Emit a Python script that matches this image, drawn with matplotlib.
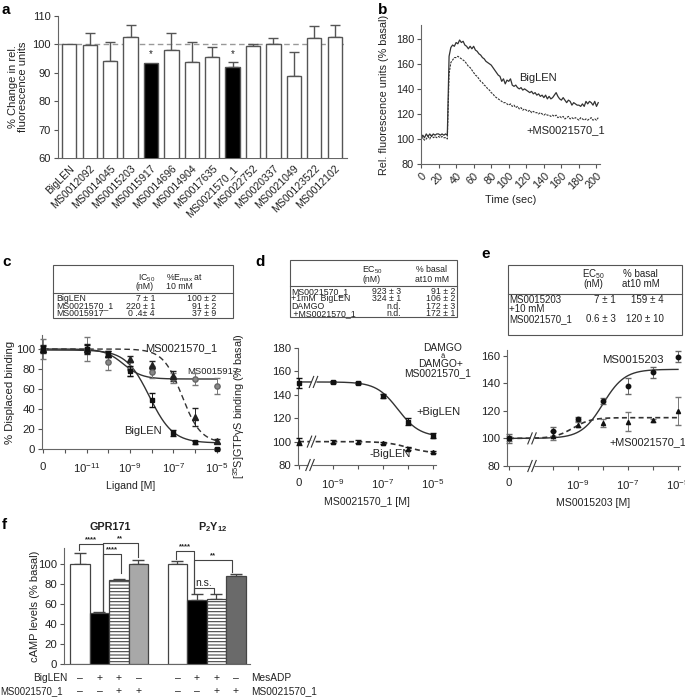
import numpy as np
import matplotlib
matplotlib.use('Agg')
import matplotlib.pyplot as plt
from matplotlib.patches import Rectangle

plt.rcParams['font.family'] = ['Liberation Sans', 'DejaVu Sans']
plt.rcParams['font.size'] = 7.5
plt.rcParams['mathtext.fontset'] = 'custom'
plt.rcParams['mathtext.rm'] = 'Liberation Sans'
plt.rcParams['mathtext.it'] = 'Liberation Sans:italic'
plt.rcParams['mathtext.bf'] = 'Liberation Sans:bold'
plt.rcParams['mathtext.default'] = 'regular'
plt.rcParams['text.color'] = '#222222'
plt.rcParams['axes.labelcolor'] = '#222222'
plt.rcParams['xtick.color'] = '#555555'
plt.rcParams['ytick.color'] = '#555555'
plt.rcParams['xtick.labelcolor'] = '#222222'
plt.rcParams['ytick.labelcolor'] = '#222222'
plt.rcParams['axes.edgecolor'] = '#666666'
plt.rcParams['hatch.linewidth'] = 0.8

# ---------------- DATA ----------------
# Panel a
a_labels = ['BigLEN', 'MS0012092', 'MS0014045', 'MS0015203', 'MS0015917', 'MS0014696',
            'MS0014904', 'MS0017635', 'MS0021570_1', 'MS0022752', 'MS0020337',
            'MS0021049', 'MS00123522', 'MS0012102']
a_values = [100, 99.8, 94.0, 102.7, 93.6, 98.0, 93.9, 95.7, 92.1, 99.4, 100.3, 89.0, 102.4, 102.6]
a_errors = [0, 4.2, 6.7, 4.0, 0, 6.0, 6.8, 3.5, 1.7, 0.6, 1.8, 8.5, 4.1, 4.1]
a_black = [False, False, False, False, True, False, False, False, True, False, False, False, False, False]
a_star = [False, False, False, False, True, False, False, False, True, False, False, False, False, False]

# Panel b (time in sec, sampled every 2 s)
b_biglen = [100, 103, 101, 104, 102, 104, 102, 104, 103, 104, 104, 103, 104, 103, 104, 103,
            166, 173, 175, 174, 177, 176, 179, 177, 178, 175, 174, 172, 174, 172, 174, 171,
            170, 168, 167, 165, 164, 162, 161, 160, 159, 157, 155, 153, 151, 150, 146, 148,
            144, 147, 146, 148, 143, 142, 143, 141, 140, 141, 139, 140, 139, 138, 137, 138,
            136, 137, 135, 136, 134, 135, 133, 135, 132, 134, 132, 133, 135, 137, 134, 132,
            131, 133, 131, 129, 131, 130, 127, 129, 128, 127, 127, 126, 128, 126, 130, 128,
            130, 129, 127, 130, 126, 129]
b_ms = [100, 101, 99, 100, 102, 100, 103, 101, 102, 101, 102, 101, 102, 101, 101, 100,
        152, 161, 163, 165, 165, 166, 165, 164, 163, 162, 160, 158, 157, 155, 153, 151,
        150, 148, 146, 145, 143, 142, 140, 139, 137, 136, 134, 133, 132, 131, 130, 129,
        129, 128, 127, 128, 126, 127, 125, 126, 124, 125, 123, 124, 123, 122, 123, 121,
        122, 121, 121, 120, 121, 120, 119, 120, 119, 119, 118, 119, 118, 119, 117, 118,
        117, 118, 116, 117, 118, 116, 117, 116, 117, 116, 115, 117, 116, 115, 116, 115,
        116, 117, 115, 116, 115, 117]
b_time = np.arange(len(b_biglen)) * 2

# Panel c (log10 concentration; -13 stands for "0")
c_x = [-13, -11, -10, -9, -8, -7, -6, -5]
c_biglen = [100, 100, 95, 78, 49, 16, 7, 0]
c_biglen_err = [3, 4, 3, 5, 7, 3, 1.5, 1]
c_ms21570 = [100, 100, 95, 90, 84, 73, 32, 8]
c_ms21570_err = [4, 5, 3, 3, 4, 5, 9, 2]
c_ms15917 = [100, 100, 87, 80, 77, 71, 70, 63]
c_ms15917_err = [10, 12, 8, 7, 6, 5, 6, 8]
# fitted curve parameters: top, bottom, logIC50, hill
c_fit_biglen = (99, 6, -8.1, 0.8)
c_fit_ms21570 = (100, 6, -6.6, 1.0)
c_fit_ms15917 = (100, 70, -9.3, 1.0)
c_table_rows = [('BigLEN', '7 ± 1', '100 ± 2'),
                ('MS0021570_1', '220 ± 1', '91 ± 2'),
                ('MS0015917', '0 .4± 4', '37 ± 9')]

# Panel d
d_x = [-10.36, -9, -8, -7, -6, -5]
d_plus = [150, 151, 150, 139, 117, 105]
d_plus_err = [4, 1, 1, 2, 3, 2]
d_minus = [100, 100, 100, 99, 94, 91]
d_minus_err = [3, 1, 1, 1, 1, 1]
d_fit_plus = (151, 104, -6.4, 1.0)
d_fit_minus = (100, 90, -6.0, 1.0)
d_table_rows = [('MS0021570_1', '923 ± 3', '91 ± 2'),
                ('+1mM  BigLEN', '324 ± 1', '106 ± 2'),
                ('DAMGO', 'n.d.', '172 ± 3'),
                (' +MS0021570_1', 'n.d.', '172 ± 1')]

# Panel e
e_x = [-11.76, -10, -9, -8, -7, -6, -5]
e_ms15203 = [100, 105, 114, 127, 138, 148, 159]
e_ms15203_err = [3, 3, 1.5, 2, 6, 4, 4]
e_comb = [100, 102, 110, 111, 112, 113, 120]
e_comb_err = [2, 3, 2, 3, 7, 1, 10]
e_fit_ms15203 = (100, 150, -8.0, 1.0)   # bottom, top, logEC50, hill
e_fit_comb = (100, 115, -9.2, 1.2)
e_table_rows = [('MS0015203', '7 ± 1', '159 ± 4'),
                ('+10 mM', '', ''),
                ('MS0021570_1', '0.6 ± 3', '120 ± 10')]

# Panel f
f_gpr = [100, 51, 84, 100]
f_gpr_err = [11, 1, 1.5, 4]
f_p2y = [100, 64, 65, 88]
f_p2y_err = [3, 6, 5, 2]
f_row1 = ['–', '+', '+', '–', '–', '+', '+', '–']
f_row2 = ['–', '–', '+', '+', '–', '–', '+', '+']

# ---------------- FIGURE ----------------
W, H = 685, 699
fig = plt.figure(figsize=(W / 100, H / 100), dpi=100)
TFS = 6.3  # table font size


def axpx(l, t, r, b):
    ax = fig.add_axes([l / W, 1 - b / H, (r - l) / W, (b - t) / H])
    ax.spines['top'].set_visible(False)
    ax.spines['right'].set_visible(False)
    ax.tick_params(length=3, width=0.8, pad=2)
    return ax


def ylab_at(ax, l, r, xpx):
    ax.yaxis.set_label_coords((xpx - l) / (r - l), 0.5)


def ftxt(x, y, s, **kw):
    kw.setdefault('ha', 'left')
    kw.setdefault('va', 'center')
    return fig.text(x / W, 1 - y / H, s, **kw)


def fline(x1, y1, x2, y2, **kw):
    kw.setdefault('color', '#555555')
    kw.setdefault('lw', 0.8)
    fig.add_artist(plt.Line2D([x1 / W, x2 / W], [1 - y1 / H, 1 - y2 / H], transform=fig.transFigure, **kw))


def fbox(l, t, r, b):
    fig.add_artist(Rectangle((l / W, 1 - b / H), (r - l) / W, (b - t) / H, transform=fig.transFigure,
                             fill=False, edgecolor='#555555', lw=0.8))


def dec(x, p):
    top, bot, lc, h = p
    return bot + (top - bot) / (1 + 10 ** ((np.asarray(x) - lc) * h))


def inc(x, p):
    bot, top, lc, h = p
    return bot + (top - bot) / (1 + 10 ** ((lc - np.asarray(x)) * h))


def brk(ax, xb, y, pxx, pxy):
    dx = 2.2 / pxx
    dy = 5.5 / pxy
    gap = 4.0 / pxx
    ax.plot([xb - gap / 2 - dx * 0.2, xb + gap / 2 + dx * 0.2], [y, y], color='white', lw=2.5,
            clip_on=False, zorder=6, solid_capstyle='butt')
    for off in (-gap / 2, gap / 2):
        ax.plot([xb + off - dx, xb + off + dx], [y - dy, y + dy], color='#333333', lw=0.8,
                clip_on=False, zorder=7)


# ---- panel letters
for s, x, y in [('a', 2, 10), ('b', 378, 10), ('c', 2, 262), ('d', 255, 262), ('e', 481, 254), ('f', 2, 525)]:
    ftxt(x, y, s, fontsize=11, fontweight='bold', color='black')

# ---- Panel a
axa = axpx(58, 16, 347, 158)
xa = np.arange(len(a_labels))
cols = ['black' if b else 'white' for b in a_black]
axa.bar(xa, a_values, width=0.7, color=cols, edgecolor='#555555', linewidth=1.0, zorder=3)
for i in range(len(xa)):
    if a_errors[i] > 0:
        axa.errorbar(xa[i], a_values[i], yerr=[[0], [a_errors[i]]], color='#555555', capsize=3.5,
                     elinewidth=1.0, capthick=1.0, zorder=2)
    if a_star[i]:
        axa.text(xa[i], a_values[i] + a_errors[i] + 1.2, '*', ha='center', va='bottom', fontsize=7)
axa.axhline(100, color='#999999', ls=(0, (4, 2.5)), lw=1.0, zorder=1)
axa.set_xlim(-0.55, 13.6)
axa.set_ylim(60, 110)
axa.set_yticks([60, 70, 80, 90, 100, 110])
axa.set_xticks(xa)
axa.set_xticklabels(a_labels, rotation=45, ha='right', rotation_mode='anchor', fontsize=7.6)
axa.tick_params(axis='x', length=0, pad=4)
axa.tick_params(axis='y', labelsize=8)
axa.set_ylabel('% Change in rel.\nfluorescence units', fontsize=8, linespacing=1.0)
ylab_at(axa, 58, 347, 28)

# ---- Panel b
axb = axpx(421, 25, 600, 164)
axb.plot(b_time, b_biglen, color='#333333', lw=0.9)
axb.plot(b_time, b_ms, color='#333333', lw=0.8, ls=(0, (2, 1)))
axb.set_xlim(0, 204)
axb.set_ylim(80, 191)
axb.set_xticks(np.arange(0, 201, 20))
axb.set_yticks(np.arange(80, 181, 20))
axb.tick_params(axis='x', labelrotation=45, labelsize=7.8)
for lab in axb.get_xticklabels():
    lab.set_ha('right')
    lab.set_rotation_mode('anchor')
axb.tick_params(axis='y', labelsize=7.8)
axb.set_xlabel('Time (sec)', fontsize=7.8, labelpad=3)
axb.set_ylabel('Rel. fluorescence units (% basal)', fontsize=7.8)
ylab_at(axb, 421, 600, 389)
axb.text(112, 149, 'BigLEN', fontsize=8, ha='left', va='center')
axb.text(120, 107, '+MS0021570_1', fontsize=8, ha='left', va='center')

# ---- Panel c
axc = axpx(42, 335, 220, 449)
xs = np.linspace(-13, -5, 300)
axc.plot(xs, dec(xs, c_fit_biglen), color='#333333', lw=1.0)
axc.plot(xs, dec(xs, c_fit_ms21570), color='#333333', lw=1.0, ls=(0, (4, 2.5)))
axc.plot(xs, dec(xs, c_fit_ms15917), color='#333333', lw=1.0)
axc.errorbar(c_x, c_ms15917, yerr=c_ms15917_err, fmt='o', ms=3.8, color='#777777', mfc='#888888',
             mec='#666666', capsize=2, elinewidth=0.7, clip_on=False, zorder=4)
axc.errorbar(c_x, c_ms21570, yerr=c_ms21570_err, fmt='^', ms=3.8, color='#222222', capsize=2,
             elinewidth=0.7, clip_on=False, zorder=4)
axc.errorbar(c_x, c_biglen, yerr=c_biglen_err, fmt='s', ms=3.5, color='#111111', capsize=2,
             elinewidth=0.7, clip_on=False, zorder=5)
axc.set_xlim(-13.05, -4.85)
axc.set_ylim(0, 114)
axc.set_yticks([0, 20, 40, 60, 80, 100])
axc.set_xticks([-13, -11, -9, -7, -5])
axc.set_xticklabels(['0', '10$^{-11}$', '10$^{-9}$', '10$^{-7}$', '10$^{-5}$'])
axc.set_xticks([-12, -10, -8, -6], minor=True)
axc.tick_params(axis='x', which='minor', length=3, width=0.8)
axc.tick_params(labelsize=8.2)
axc.tick_params(axis='x', pad=6)
axc.set_xlabel('Ligand [M]', fontsize=7.6, labelpad=4)
axc.set_ylabel('% Displaced binding', fontsize=8.2)
ylab_at(axc, 42, 220, 15)
axc.text(-8.3, 101, 'MS0021570_1', fontsize=8.0, ha='left', va='center')
axc.text(-6.35, 77, 'MS0015917', fontsize=6.8, ha='left', va='center')
axc.text(-9.25, 18, 'BigLEN', fontsize=8.0, ha='left', va='center')
# table c
fbox(53, 265, 233, 318)
fline(53, 293, 233, 293)
ftxt(138, 278, 'IC$_{50}$', ha='left', fontsize=TFS)
ftxt(135, 287, '(nM)', ha='left', fontsize=TFS)
ftxt(166, 278, '%E$_{max}$ at', ha='left', fontsize=TFS)
ftxt(166, 287, '10 mM', ha='left', fontsize=TFS)
for k, (n, v1, v2) in enumerate(c_table_rows):
    yy = 298.5 + k * 7.6
    ftxt(56, yy, n, fontsize=TFS)
    ftxt(155, yy, v1, ha='right', fontsize=TFS)
    ftxt(216, yy, v2, ha='right', fontsize=TFS)

# ---- Panel d
axd = axpx(298, 348, 436, 465)
xs = np.linspace(-10.36, -5, 300)
axd.plot(xs, dec(xs, d_fit_plus), color='#333333', lw=1.0)
axd.plot(xs, dec(xs, d_fit_minus), color='#333333', lw=1.2, ls=(0, (3, 2)))
axd.errorbar(d_x, d_plus, yerr=d_plus_err, fmt='s', ms=3.2, color='#111111', capsize=2,
             elinewidth=0.7, clip_on=False, zorder=5)
axd.errorbar(d_x, d_minus, yerr=d_minus_err, fmt='^', ms=3.0, color='#111111', capsize=2,
             elinewidth=0.7, clip_on=False, zorder=5)
axd.set_xlim(-10.4, -4.88)
axd.set_ylim(80, 180)
axd.set_yticks([80, 100, 120, 140, 160, 180])
axd.set_xticks([-10.36, -9, -7, -5])
axd.set_xticklabels(['0', '10$^{-9}$', '10$^{-7}$', '10$^{-5}$'])
axd.set_xticks([-8, -6], minor=True)
axd.tick_params(axis='x', which='minor', length=3, width=0.8)
axd.tick_params(labelsize=8.2)
axd.tick_params(axis='x', pad=6)
pxx_d = 25.0
pxy_d = 117 / 100
brk(axd, -9.92, 80, pxx_d, pxy_d)
brk(axd, -9.78, 151, pxx_d, pxy_d)
brk(axd, -9.86, 100, pxx_d, pxy_d)
axd.set_xlabel('MS0021570_1 [M]', fontsize=7.6, labelpad=4)
axd.set_ylabel('[$^{35}$S]GTPγS binding (% basal)', fontsize=7.8)
ylab_at(axd, 298, 436, 247)
ftxt(443, 348, 'DAMGO', ha='center', fontsize=7.4)
ftxt(443, 356, 'ā', ha='center', fontsize=5.5)
ftxt(441, 364, 'DAMGO+', ha='center', fontsize=7.4)
ftxt(438, 373, 'MS0021570_1', ha='center', fontsize=7.4)
ftxt(438, 412, '+BigLEN', ha='center', fontsize=8)
ftxt(369, 454, '-BigLEN', ha='left', fontsize=8)
# table d
fbox(290, 260, 457, 317)
fline(290, 286, 457, 286)
ftxt(372, 270, 'EC$_{50}$', ha='center', fontsize=TFS)
ftxt(372, 279, '(nM)', ha='center', fontsize=TFS)
ftxt(432, 270, '% basal', ha='center', fontsize=TFS)
ftxt(432, 280, 'at10 mM', ha='center', fontsize=TFS)
for k, (n, v1, v2) in enumerate(d_table_rows):
    yy = 291.5 + k * 7.4
    ftxt(291, yy, n, fontsize=TFS)
    ftxt(401, yy, v1, ha='right', fontsize=TFS)
    ftxt(455, yy, v2, ha='right', fontsize=TFS)

# ---- Panel e
axe = axpx(507, 350, 680, 466)
xs = np.linspace(-11.76, -5, 300)
axe.plot(xs, inc(xs, e_fit_ms15203), color='#333333', lw=1.0)
axe.plot(xs, inc(xs, e_fit_comb), color='#333333', lw=1.2, ls=(0, (3, 2)))
axe.errorbar(e_x, e_ms15203, yerr=e_ms15203_err, fmt='o', ms=3.2, color='#111111', capsize=2,
             elinewidth=0.7, ecolor='#666666', clip_on=False, zorder=5)
axe.errorbar(e_x, e_comb, yerr=e_comb_err, fmt='^', ms=3.0, color='#111111', capsize=2,
             elinewidth=0.7, ecolor='#777777', clip_on=False, zorder=5)
axe.set_xlim(-11.84, -4.92)
axe.set_ylim(80, 164)
axe.set_yticks([80, 100, 120, 140, 160])
axe.set_xticks([-11.76, -9, -7, -5])
axe.set_xticklabels(['0', '10$^{-9}$', '10$^{-7}$', '10$^{-5}$'])
axe.set_xticks([-10, -8, -6], minor=True)
axe.tick_params(axis='x', which='minor', length=3, width=0.8)
axe.tick_params(labelsize=8.2)
axe.tick_params(axis='x', pad=6)
pxx_e = 25.0
pxy_e = 110 / 80
brk(axe, -10.84, 80, pxx_e, pxy_e)
brk(axe, -10.84, 100, pxx_e, pxy_e)
axe.set_xlabel('MS0015203 [M]', fontsize=7.6, labelpad=4)
ftxt(602, 360, 'MS0015203', fontsize=8.2)
ftxt(609, 442, '+MS0021570_1', fontsize=7.8)
# table e
ETFS = 7.0
fbox(508, 265, 682, 335)
fline(508, 294, 682, 294)
ftxt(593, 274, 'EC$_{50}$', ha='center', fontsize=ETFS)
ftxt(593, 284, '(nM)', ha='center', fontsize=ETFS)
ftxt(640, 274, '% basal', ha='center', fontsize=ETFS)
ftxt(641, 284, 'at10 mM', ha='center', fontsize=ETFS)
for k, (n, v1, v2) in enumerate(e_table_rows):
    yy = 300 + k * 9.5
    ftxt(509, yy, n, fontsize=ETFS)
    ftxt(616, yy, v1, ha='right', fontsize=ETFS)
    ftxt(664, yy, v2, ha='right', fontsize=ETFS)

# ---- Panel f
axf = axpx(64, 548, 250, 664)
pos1 = np.arange(4)
pos2 = np.arange(4) + 5
colors1 = ['white', 'black', 'white', '#a8a8a8']
colors2 = ['white', 'black', 'white', '#6a6a6a']
hatches = [None, None, '-----', None]
for k in range(4):
    axf.bar(pos1[k], f_gpr[k], width=1.0, color=colors1[k], edgecolor='#444444', lw=0.9,
            hatch=hatches[k], zorder=3)
    axf.bar(pos2[k], f_p2y[k], width=1.0, color=colors2[k], edgecolor='#444444', lw=0.9,
            hatch=hatches[k], zorder=3)
    axf.errorbar(pos1[k], f_gpr[k], yerr=[[0], [f_gpr_err[k]]], color='#444444', capsize=4,
                 elinewidth=0.9, zorder=2)
    axf.errorbar(pos2[k], f_p2y[k], yerr=[[0], [f_p2y_err[k]]], color='#444444', capsize=4,
                 elinewidth=0.9, zorder=2)
axf.set_xlim(-0.82, 8.72)
axf.set_ylim(0, 116)
axf.set_yticks([0, 20, 40, 60, 80, 100])
axf.set_xticks([])
axf.tick_params(labelsize=8.2)
axf.set_ylabel('cAMP levels (% basal)', fontsize=8.0)
ylab_at(axf, 64, 250, 40)


def bracket(ax, x1, x2, y, y1, y2, txt, fs=5.5, dy=0.3):
    ax.plot([x1, x1, x2, x2], [y1, y, y, y2], color='#444444', lw=0.8, clip_on=False, zorder=6)
    ax.text((x1 + x2) / 2, y + dy, txt, ha='center', va='bottom', fontsize=fs, zorder=6,
            fontweight='bold')


bracket(axf, -0.05, 1.2, 120, 114, 53, '****')
bracket(axf, 1.2, 2.95, 121, 53, 107, '**')
bracket(axf, 1.2, 2.1, 110, 53, 91, '****')
bracket(axf, 4.95, 5.85, 113, 105, 71, '****')
bracket(axf, 5.85, 7.8, 104, 71, 92, '**')
axf.plot([5.85, 5.85, 6.85, 6.85], [71, 76, 76, 70], color='#444444', lw=0.8, zorder=6)
axf.text(6.35, 76.5, 'n.s.', ha='center', va='bottom', fontsize=7.5, zorder=6)
axf.text(1.54, 137, 'GPR171', ha='center', va='center', fontsize=7.8, fontweight='bold', clip_on=False)
axf.text(6.8, 137, 'P$_2$Y$_{12}$', ha='center', va='center', fontsize=7.8, fontweight='bold',
         clip_on=False)
tr = axf.get_xaxis_transform()
allpos = list(pos1) + list(pos2)
for k, p in enumerate(allpos):
    axf.text(p, -14 / 116, f_row1[k], transform=tr, ha='center', va='center', fontsize=7.6)
    axf.text(p, -27 / 116, f_row2[k], transform=tr, ha='center', va='center', fontsize=7.6)
ftxt(67, 678, 'BigLEN', ha='right', fontsize=7.3)
ftxt(63, 691, 'MS0021570_1', ha='right', fontsize=6.9)
ftxt(251, 678, 'MesADP', ha='left', fontsize=7.3)
ftxt(251, 691, 'MS0021570_1', ha='left', fontsize=7.3)

fig.savefig('out.png', dpi=100)
